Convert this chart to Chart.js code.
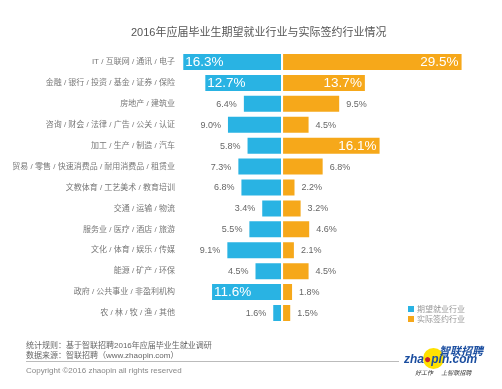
<!DOCTYPE html>
<html>
<head>
<meta charset="utf-8">
<script src="https://cdn.jsdelivr.net/npm/chart.js@4"></script>
<style>
  body { margin: 0; background: #fff; font-family: "Liberation Sans", "Noto Sans CJK SC", sans-serif; }
  #wrap { position: relative; width: 502px; height: 389px; overflow: hidden; }
  #chart { position: absolute; left: 0; top: 0; }
  .txt { position: absolute; white-space: nowrap; }
  #title { left: 131px; top: 23px; font-size: 11px; color: #555; }
  .foot { left: 26px; font-size: 8px; color: #666; }
  #rule { position: absolute; left: 26px; top: 361px; width: 373px; height: 1px; background: #bbb; }
  .leg { left: 408px; font-size: 8px; color: #999; }
  .leg i { display: inline-block; width: 6px; height: 6px; margin-right: 3px; }
</style>
</head>
<body>
<div id="wrap">
  <canvas id="chart" width="502" height="389"></canvas>
  <div id="title" class="txt">2016年应届毕业生期望就业行业与实际签约行业情况</div>
  <div class="txt leg" style="top:303px"><i style="background:#29b3e3"></i>期望就业行业</div>
  <div class="txt leg" style="top:313px"><i style="background:#f6a81a"></i>实际签约行业</div>
  <div class="txt foot" style="top:339px">统计规则：基于智联招聘2016年应届毕业生就业调研</div>
  <div class="txt foot" style="top:349px">数据来源：智联招聘（www.zhaopin.com）</div>
  <div id="rule"></div>
  <div class="txt foot" style="top:366px;color:#888">Copyright ©2016 zhaopin all rights reserved</div>
  <div class="txt" style="left:423px;top:348px;width:21px;height:21px;border-radius:50%;background:#ffe100"></div>
  <div class="txt" style="left:439px;top:342px;font-size:11px;font-weight:bold;font-style:italic;color:#1b4ea0">智联招聘</div>
  <div class="txt" style="left:404px;top:352px;font-size:12px;font-weight:bold;font-style:italic;color:#1b4ea0">zha<span style="color:#c8252c">●</span>pin.com</div>
  <div class="txt" style="left:415px;top:368px;font-size:6px;font-style:italic;color:#333">好工作 &nbsp;&nbsp;&nbsp;&nbsp;上智联招聘</div>
</div>
<script>
var categories = [
  'IT / 互联网 / 通讯 / 电子',
  '金融 / 银行 / 投资 / 基金 / 证券 / 保险',
  '房地产 / 建筑业',
  '咨询 / 财会 / 法律 / 广告 / 公关 / 认证',
  '加工 / 生产 / 制造 / 汽车',
  '贸易 / 零售 / 快速消费品 / 耐用消费品 / 租赁业',
  '文教体育 / 工艺美术 / 教育培训',
  '交通 / 运输 / 物流',
  '服务业 / 医疗 / 酒店 / 旅游',
  '文化 / 体育 / 娱乐 / 传媒',
  '能源 / 矿产 / 环保',
  '政府 / 公共事业 / 非盈利机构',
  '农 / 林 / 牧 / 渔 / 其他'
];
var expected = [16.3, 12.7, 6.4, 9.0, 5.8, 7.3, 6.8, 3.4, 5.5, 9.1, 4.5, 11.6, 1.6];
var actual = [29.5, 13.7, 9.5, 4.5, 16.1, 6.8, 2.2, 3.2, 4.6, 2.1, 4.5, 1.8, 1.5];

var blue = '#29b3e3';
var orange = '#f6a81a';

// white gap in the middle + percentage labels
var labelPlugin = {
  id: 'labels',
  afterDatasetsDraw: function(chart) {
    var ctx = chart.ctx;
    var x0 = chart.scales.x.getPixelForValue(0);
    ctx.save();
    ctx.fillStyle = '#fff';
    ctx.fillRect(x0 - 1, chart.chartArea.top, 2, chart.chartArea.bottom - chart.chartArea.top);
    ctx.textBaseline = 'middle';
    chart.data.datasets.forEach(function(ds, di) {
      var meta = chart.getDatasetMeta(di);
      meta.data.forEach(function(bar, i) {
        var v = Math.abs(ds.data[i]);
        var txt = v.toFixed(1) + '%';
        var big = v >= 10;
        var end = bar.x;
        if (big) {
          ctx.font = '13.5px "Liberation Sans"';
          ctx.fillStyle = '#fff';
        } else {
          ctx.font = '9px "Liberation Sans"';
          ctx.fillStyle = '#666';
        }
        if (di === 0) {
          ctx.textAlign = big ? 'left' : 'right';
          ctx.fillText(txt, big ? end + 3 : end - 6, bar.y + 0.5);
        } else {
          ctx.textAlign = big ? 'right' : 'left';
          ctx.fillText(txt, big ? end - 4 : end + 6, bar.y + 0.5);
        }
      });
    });
    ctx.restore();
  }
};

new Chart(document.getElementById('chart'), {
  type: 'bar',
  data: {
    labels: categories,
    datasets: [{
      label: '期望就业行业',
      data: expected.map(function(v) { return -v; }),
      backgroundColor: blue,
      borderColor: 'rgba(255,255,255,0.45)',
      borderWidth: 1,
      borderSkipped: false
    }, {
      label: '实际签约行业',
      data: actual,
      backgroundColor: orange,
      borderColor: 'rgba(255,255,255,0.45)',
      borderWidth: 1,
      borderSkipped: false
    }]
  },
  options: {
    indexAxis: 'y',
    responsive: false,
    animation: false,
    layout: { padding: { top: 51.5, bottom: 65.5, left: 0, right: 18 } },
    categoryPercentage: 1,
    barPercentage: 0.86,
    plugins: {
      legend: { display: false },
      tooltip: { enabled: false }
    },
    scales: {
      x: {
        display: false,
        stacked: true,
        min: -17,
        max: 33
      },
      y: {
        stacked: true,
        grid: { display: false, drawTicks: false },
        border: { display: false },
        afterFit: function(scale) { scale.width = 178; },
        ticks: {
          padding: 3,
          color: '#777',
          font: { size: 8, family: '"Liberation Sans", "Noto Sans CJK SC"' }
        }
      }
    }
  },
  plugins: [labelPlugin]
});
</script>
</body>
</html>
